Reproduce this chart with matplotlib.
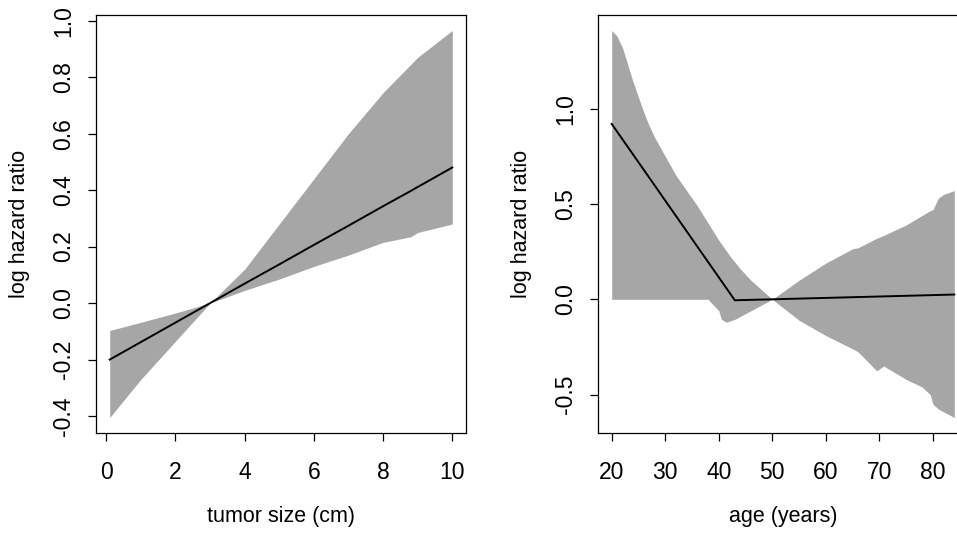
import matplotlib
matplotlib.use("Agg")
import matplotlib.pyplot as plt
from matplotlib.ticker import FuncFormatter

plt.rcParams['font.family'] = ['Liberation Sans', 'DejaVu Sans']

# tumor size panel
size_x = [0.1, 1, 2, 3, 4, 5, 6, 7, 8, 8.8, 9, 10]
size_fit = [-0.20, -0.138, -0.069, 0.0, 0.069, 0.137, 0.206, 0.274, 0.343, 0.397, 0.411, 0.48]
size_upper = [-0.097, -0.068, -0.035, 0.0, 0.12, 0.28, 0.44, 0.60, 0.745, 0.845, 0.87, 0.965]
size_lower = [-0.405, -0.27, -0.135, 0.0, 0.045, 0.085, 0.13, 0.17, 0.215, 0.235, 0.25, 0.28]

# age panel
age_fit_x = [20, 43, 50, 84]
age_fit = [0.92, -0.005, 0.0, 0.025]
age_x = [20, 21, 22, 23, 24, 25, 26, 27, 28, 29, 30, 32, 34, 36, 37, 38, 40,
         40.5, 41.4, 42, 43, 44, 46, 48, 50, 55, 60, 65, 66, 69.5, 70.8, 75,
         78, 79.5, 80, 81, 82, 84]
age_upper = [1.41, 1.38, 1.32, 1.23, 1.14, 1.06, 0.98, 0.91, 0.85, 0.80, 0.75,
             0.65, 0.57, 0.49, 0.445, 0.40, 0.31, 0.29, 0.255, 0.23, 0.195,
             0.16, 0.10, 0.05, 0.0, 0.10, 0.19, 0.265, 0.27, 0.32, 0.335, 0.39,
             0.44, 0.465, 0.47, 0.53, 0.55, 0.57]
age_lower = [0.0, 0.0, 0.0, 0.0, 0.0, 0.0, 0.0, 0.0, 0.0, 0.0, 0.0, 0.0, 0.0,
             0.0, 0.0, 0.0, -0.06, -0.105, -0.12, -0.115, -0.105, -0.09,
             -0.06, -0.03, 0.0, -0.11, -0.19, -0.26, -0.275, -0.375, -0.35,
             -0.42, -0.46, -0.50, -0.55, -0.575, -0.59, -0.62]

fig = plt.figure(figsize=(9.57, 5.41), dpi=100)
ax1 = fig.add_axes([96/957, 108/541, 370/957, 418/541])
ax2 = fig.add_axes([598/957, 108/541, 370/957, 418/541])

band = '#a6a6a6'
fmt = FuncFormatter(lambda v, p: ('%.1f' % v).replace('\u2212', '-'))

ax1.fill_between(size_x, size_lower, size_upper, color=band, lw=0)
ax1.plot(size_x, size_fit, color='black', lw=1.4)
ax1.set_xticks([0, 2, 4, 6, 8, 10])
ax1.set_yticks([-0.4, -0.2, 0.0, 0.2, 0.4, 0.6, 0.8, 1.0])
ax1.yaxis.set_major_formatter(fmt)
ax1.set_xlabel('tumor size (cm)')

ax2.fill_between(age_x, age_lower, age_upper, color=band, lw=0)
ax2.plot(age_fit_x, age_fit, color='black', lw=1.4)
ax2.set_xticks([20, 30, 40, 50, 60, 70, 80])
ax2.set_yticks([-0.5, 0.0, 0.5, 1.0])
ax2.yaxis.set_major_formatter(fmt)
ax2.set_xlabel('age (years)')

for ax in (ax1, ax2):
    ax.margins(0.04)
    ax.set_ylabel('log hazard ratio')
    ax.tick_params(labelsize=16.5, length=6, width=0.9, color='black')
    ax.tick_params(axis='x', pad=14)
    ax.tick_params(axis='y', pad=9, labelrotation=90)
    for lab in ax.get_yticklabels():
        lab.set_verticalalignment('center')
    for s in ax.spines.values():
        s.set_linewidth(0.9)
    ax.xaxis.label.set_size(15.5)
    ax.yaxis.label.set_size(15.5)
    ax.xaxis.set_label_coords(0.5, -0.175)
    ax.yaxis.set_label_coords(-0.178, 0.5)

fig.savefig('out.png', dpi=100)
